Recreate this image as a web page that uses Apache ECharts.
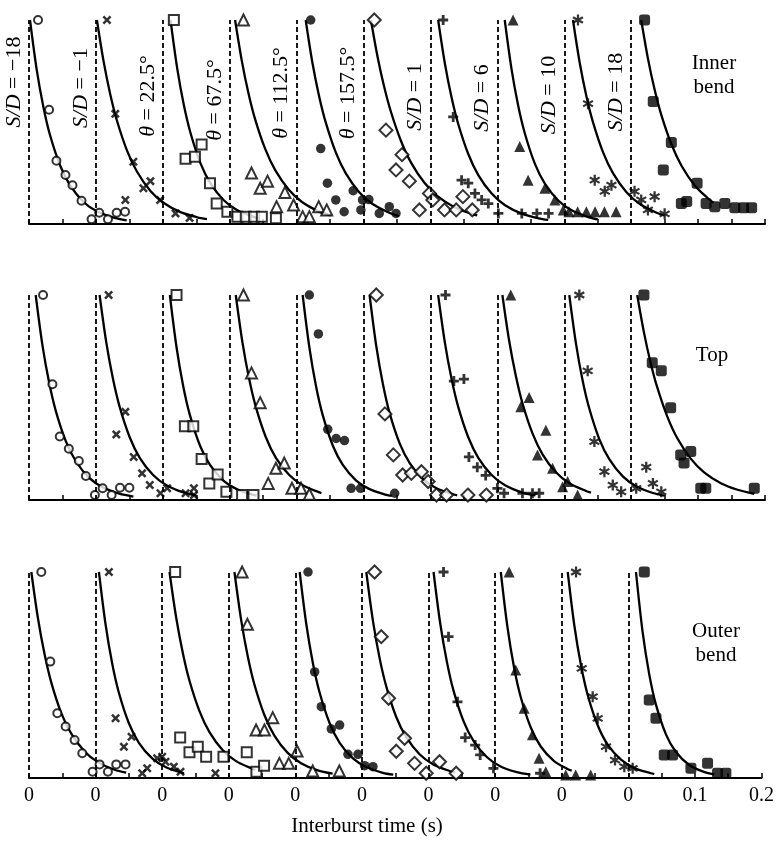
<!DOCTYPE html>
<html>
<head>
<meta charset="utf-8">
<script src="https://cdn.jsdelivr.net/npm/echarts@6/dist/echarts.min.js"></script>
<style>html,body{margin:0;padding:0;background:#fff}#c{width:777px;height:843px}</style>
</head>
<body>
<div id="c"></div>
<script>
// ---- data: subplot offsets (s), condition labels, tick labels ----
const offsets = [0, 0.1, 0.2, 0.3, 0.4, 0.5, 0.6, 0.7, 0.8, 0.9];
const conditionLabels = ['S/D = −18', 'S/D = −1', 'θ = 22.5°', 'θ = 67.5°', 'θ = 112.5°',
  'θ = 157.5°', 'S/D = 1', 'S/D = 6', 'S/D = 10', 'S/D = 18'];
const panelNames = ['Inner\nbend', 'Top', 'Outer\nbend'];
const tickLabels = ['0', '0', '0', '0', '0', '0', '0', '0', '0', '0', '0.1', '0.2'];
const axisTitle = 'Interburst time (s)';

// measured points [time within subplot (s), normalised count]
const innerPts = [
  [[0.0135,1.0],[0.030,0.56],[0.041,0.31],[0.0545,0.24],[0.065,0.19],[0.0785,0.114],[0.0935,0.023],[0.105,0.055],[0.118,0.023],[0.131,0.055],[0.1435,0.06]],
  [[0.0165,1.0],[0.029,0.54],[0.044,0.118],[0.056,0.305],[0.071,0.175],[0.0815,0.21],[0.096,0.118],[0.119,0.052],[0.14,0.03]],
  [[0.0165,1.0],[0.034,0.32],[0.048,0.33],[0.058,0.39],[0.0705,0.2],[0.0805,0.1],[0.0965,0.06],[0.1115,0.036],[0.124,0.036],[0.1365,0.036],[0.148,0.036],[0.169,0.028]],
  [[0.0205,1.0],[0.0325,0.25],[0.0455,0.175],[0.0565,0.21],[0.07,0.085],[0.0825,0.155],[0.0955,0.093],[0.109,0.036],[0.119,0.036],[0.133,0.085],[0.145,0.069]],
  [[0.021,1.0],[0.036,0.37],[0.046,0.2],[0.0585,0.118],[0.071,0.06],[0.0845,0.163],[0.096,0.069],[0.0985,0.118],[0.108,0.12],[0.1235,0.052],[0.1385,0.085],[0.1485,0.052]],
  [[0.016,1.0],[0.0335,0.46],[0.0485,0.265],[0.0575,0.34],[0.0685,0.21],[0.0835,0.069],[0.0985,0.15],[0.1035,0.118],[0.121,0.069],[0.1385,0.069],[0.1485,0.134],[0.1625,0.069]],
  [[0.019,1.0],[0.034,0.525],[0.0465,0.215],[0.0565,0.2],[0.0665,0.15],[0.0765,0.118],[0.0865,0.1],[0.1015,0.052],[0.1365,0.052],[0.159,0.052],[0.1765,0.052]],
  [[0.0235,1.0],[0.0335,0.38],[0.046,0.215],[0.071,0.175],[0.086,0.118],[0.0985,0.069],[0.107,0.06],[0.12,0.06],[0.133,0.06],[0.146,0.06],[0.16,0.06],[0.1775,0.06]],
  [[0.0205,1.0],[0.0355,0.59],[0.0455,0.215],[0.0605,0.16],[0.0705,0.19],[0.105,0.16],[0.115,0.118],[0.125,0.069],[0.135,0.134],[0.15,0.05]],
  [[0.02,1.0],[0.033,0.6],[0.048,0.265],[0.06,0.4],[0.0985,0.2],[0.075,0.1],[0.083,0.11],[0.112,0.1],[0.125,0.085],[0.14,0.1],[0.155,0.08],[0.168,0.08],[0.18,0.08]]
];
// fitted curves [time within subplot (s), value]
const innerFit = [
  [[0.0015,1],[0.0115,0.757],[0.0215,0.574],[0.0315,0.435],[0.0465,0.287],[0.0615,0.189],[0.0815,0.108],[0.1015,0.062],[0.1265,0.031],[0.146,0.018]],
  [[0.0015,1],[0.0115,0.797],[0.0215,0.635],[0.0315,0.506],[0.0465,0.36],[0.0615,0.256],[0.0815,0.162],[0.1015,0.103],[0.1265,0.058],[0.1515,0.033],[0.166,0.024]],
  [[0.0115,1],[0.0215,0.763],[0.0315,0.582],[0.0415,0.445],[0.0565,0.296],[0.0715,0.198],[0.0915,0.115],[0.1115,0.067],[0.1365,0.034],[0.145,0.027]],
  [[0.008,1],[0.018,0.801],[0.028,0.641],[0.038,0.513],[0.053,0.368],[0.068,0.264],[0.088,0.169],[0.108,0.108],[0.133,0.062],[0.151,0.042]],
  [[0.0135,1],[0.0235,0.792],[0.0335,0.628],[0.0435,0.498],[0.0585,0.351],[0.0735,0.248],[0.0935,0.156],[0.1135,0.098],[0.1385,0.055],[0.153,0.039]],
  [[0.011,1],[0.021,0.819],[0.031,0.67],[0.041,0.549],[0.056,0.407],[0.071,0.301],[0.091,0.202],[0.111,0.135],[0.136,0.082],[0.161,0.05],[0.17,0.042]],
  [[0.0115,1],[0.0215,0.788],[0.0315,0.621],[0.0415,0.49],[0.0565,0.343],[0.0715,0.24],[0.0915,0.149],[0.1115,0.092],[0.1365,0.051],[0.1615,0.028],[0.176,0.02]],
  [[0.011,1],[0.021,0.763],[0.031,0.582],[0.041,0.445],[0.056,0.296],[0.071,0.198],[0.091,0.115],[0.111,0.067],[0.136,0.034],[0.15,0.023]],
  [[0.013,1],[0.023,0.792],[0.033,0.628],[0.043,0.498],[0.058,0.351],[0.073,0.248],[0.093,0.156],[0.113,0.098],[0.138,0.055],[0.15,0.042]],
  [[0.015,1],[0.025,0.812],[0.035,0.659],[0.045,0.535],[0.06,0.392],[0.075,0.287],[0.095,0.189],[0.115,0.125],[0.123,0.105]]
];
const topPts = [
  [[0.021,1.0],[0.035,0.565],[0.046,0.31],[0.0595,0.25],[0.0745,0.19],[0.085,0.117],[0.0985,0.024],[0.11,0.057],[0.1235,0.024],[0.136,0.06],[0.15,0.06]],
  [[0.019,1.0],[0.0305,0.32],[0.044,0.43],[0.0565,0.21],[0.069,0.13],[0.0805,0.073],[0.0965,0.033],[0.1065,0.057],[0.134,0.033],[0.1465,0.057],[0.1465,0.024]],
  [[0.0205,1.0],[0.033,0.36],[0.0455,0.36],[0.058,0.2],[0.0695,0.081],[0.082,0.125],[0.095,0.04],[0.1185,0.024],[0.1355,0.024]],
  [[0.0205,1.0],[0.0325,0.62],[0.0455,0.475],[0.0575,0.081],[0.069,0.155],[0.0815,0.18],[0.093,0.057],[0.1065,0.057],[0.119,0.028]],
  [[0.019,1.0],[0.0325,0.81],[0.0465,0.345],[0.059,0.3],[0.0715,0.29],[0.0815,0.057],[0.0955,0.057],[0.1465,0.033]],
  [[0.019,1.0],[0.032,0.42],[0.0445,0.22],[0.0585,0.122],[0.0715,0.13],[0.0865,0.138],[0.0965,0.09],[0.109,0.024],[0.124,0.024],[0.156,0.024],[0.1835,0.024]],
  [[0.0225,1.0],[0.035,0.58],[0.05,0.59],[0.0575,0.21],[0.07,0.16],[0.0825,0.12],[0.1,0.057],[0.11,0.033],[0.1375,0.033],[0.1525,0.033],[0.1625,0.033]],
  [[0.02,1.0],[0.035,0.455],[0.0475,0.5],[0.06,0.22],[0.0725,0.34],[0.0825,0.155],[0.0975,0.065],[0.105,0.09],[0.12,0.024]],
  [[0.0225,1.0],[0.035,0.63],[0.045,0.285],[0.06,0.138],[0.0725,0.073],[0.085,0.04],[0.1075,0.057],[0.1225,0.16],[0.1325,0.081],[0.145,0.04]],
  [[0.019,1.0],[0.0315,0.67],[0.045,0.63],[0.059,0.45],[0.074,0.22],[0.079,0.18],[0.089,0.236],[0.104,0.057],[0.1115,0.057],[0.184,0.057]]
];
const topFit = [
  [[0.01,1],[0.02,0.757],[0.03,0.574],[0.04,0.435],[0.055,0.287],[0.07,0.189],[0.09,0.108],[0.11,0.062],[0.135,0.031],[0.156,0.017]],
  [[0.0055,1],[0.0155,0.769],[0.0255,0.591],[0.0355,0.454],[0.0505,0.306],[0.0655,0.206],[0.0855,0.122],[0.1055,0.072],[0.1305,0.037],[0.15,0.022]],
  [[0.0105,1],[0.0205,0.745],[0.0305,0.555],[0.0405,0.414],[0.0555,0.266],[0.0705,0.171],[0.0905,0.095],[0.1105,0.053],[0.1355,0.025],[0.14,0.022]],
  [[0.009,1],[0.019,0.769],[0.029,0.591],[0.039,0.454],[0.054,0.306],[0.069,0.206],[0.089,0.122],[0.109,0.072],[0.134,0.037],[0.137,0.034]],
  [[0.009,1],[0.019,0.745],[0.029,0.555],[0.039,0.414],[0.054,0.266],[0.069,0.171],[0.089,0.095],[0.109,0.053],[0.134,0.025],[0.142,0.02]],
  [[0.009,1],[0.019,0.751],[0.029,0.565],[0.039,0.424],[0.054,0.276],[0.069,0.18],[0.089,0.102],[0.109,0.057],[0.134,0.028],[0.14,0.023]],
  [[0.0115,1],[0.0215,0.769],[0.0315,0.591],[0.0415,0.454],[0.0565,0.306],[0.0715,0.206],[0.0915,0.122],[0.1115,0.072],[0.1365,0.037],[0.157,0.022]],
  [[0.0075,1],[0.0175,0.779],[0.0275,0.607],[0.0375,0.472],[0.0525,0.325],[0.0675,0.223],[0.0875,0.135],[0.1075,0.082],[0.1325,0.044],[0.14,0.036]],
  [[0.0075,1],[0.0175,0.763],[0.0275,0.582],[0.0375,0.445],[0.0525,0.296],[0.0675,0.198],[0.0875,0.115],[0.1075,0.067],[0.1325,0.034],[0.15,0.021]],
  [[0.009,1],[0.019,0.819],[0.029,0.67],[0.039,0.549],[0.054,0.407],[0.069,0.301],[0.089,0.202],[0.109,0.135],[0.134,0.082],[0.159,0.05],[0.184,0.03]]
];
const outerPts = [
  [[0.0185,1.0],[0.032,0.565],[0.0425,0.314],[0.055,0.25],[0.0685,0.184],[0.08,0.12],[0.0955,0.03],[0.106,0.066],[0.1185,0.03],[0.131,0.066],[0.145,0.066]],
  [[0.02,1.0],[0.03,0.29],[0.0425,0.152],[0.054,0.2],[0.07,0.023],[0.0775,0.047],[0.0925,0.096],[0.1,0.103],[0.105,0.079],[0.1175,0.055],[0.1275,0.03],[0.18,0.023]],
  [[0.0195,1.0],[0.027,0.196],[0.041,0.125],[0.0535,0.152],[0.066,0.103],[0.092,0.103],[0.127,0.125],[0.1415,0.03],[0.153,0.06]],
  [[0.02,1.0],[0.028,0.746],[0.041,0.233],[0.0535,0.233],[0.066,0.293],[0.076,0.071],[0.09,0.071],[0.1025,0.131],[0.126,0.034],[0.166,0.034]],
  [[0.019,1.0],[0.029,0.515],[0.039,0.346],[0.054,0.238],[0.0665,0.257],[0.079,0.115],[0.094,0.115],[0.104,0.06],[0.1165,0.055]],
  [[0.019,1.0],[0.029,0.686],[0.04,0.387],[0.0515,0.13],[0.064,0.193],[0.079,0.071],[0.0965,0.023],[0.1165,0.079],[0.1415,0.023]],
  [[0.0225,1.0],[0.03,0.686],[0.0435,0.37],[0.055,0.196],[0.07,0.16],[0.0775,0.112],[0.0975,0.047],[0.1675,0.023]],
  [[0.021,1.0],[0.031,0.524],[0.0435,0.338],[0.056,0.21],[0.066,0.096],[0.076,0.03],[0.106,0.015],[0.121,0.015],[0.1435,0.015]],
  [[0.0215,1.0],[0.03,0.532],[0.0465,0.395],[0.054,0.29],[0.0665,0.152],[0.08,0.087],[0.094,0.055],[0.1065,0.047]],
  [[0.024,1.0],[0.0315,0.379],[0.0415,0.29],[0.054,0.112],[0.0665,0.112],[0.094,0.047],[0.119,0.071],[0.134,0.023],[0.1465,0.023]]
];
const outerFit = [
  [[0.0035,1],[0.0135,0.774],[0.0235,0.599],[0.0335,0.463],[0.0485,0.315],[0.0635,0.215],[0.0835,0.129],[0.1035,0.077],[0.1285,0.04],[0.146,0.026]],
  [[0.005,1],[0.015,0.745],[0.025,0.555],[0.035,0.414],[0.05,0.266],[0.065,0.171],[0.085,0.095],[0.105,0.053],[0.13,0.025],[0.133,0.023]],
  [[0.011,1],[0.021,0.779],[0.031,0.607],[0.041,0.472],[0.056,0.325],[0.071,0.223],[0.091,0.135],[0.111,0.082],[0.136,0.044],[0.14,0.04]],
  [[0.0085,1],[0.0185,0.769],[0.0285,0.591],[0.0385,0.454],[0.0535,0.306],[0.0685,0.206],[0.0885,0.122],[0.1085,0.072],[0.1335,0.037],[0.156,0.021]],
  [[0.0065,1],[0.0165,0.745],[0.0265,0.555],[0.0365,0.414],[0.0515,0.266],[0.0665,0.171],[0.0865,0.095],[0.1065,0.053],[0.1315,0.025],[0.147,0.016]],
  [[0.0065,1],[0.0165,0.763],[0.0265,0.582],[0.0365,0.445],[0.0515,0.296],[0.0665,0.198],[0.0865,0.115],[0.1065,0.067],[0.1315,0.034],[0.14,0.027]],
  [[0.0075,1],[0.0175,0.751],[0.0275,0.565],[0.0375,0.424],[0.0525,0.276],[0.0675,0.18],[0.0875,0.102],[0.1075,0.057],[0.1325,0.028],[0.153,0.016]],
  [[0.0085,1],[0.0185,0.732],[0.0285,0.535],[0.0385,0.392],[0.0535,0.245],[0.0685,0.153],[0.0885,0.082],[0.1085,0.044],[0.115,0.036]],
  [[0.009,1],[0.019,0.739],[0.029,0.546],[0.039,0.403],[0.054,0.256],[0.069,0.162],[0.089,0.089],[0.109,0.048],[0.134,0.023],[0.139,0.019]],
  [[0.0115,1],[0.0215,0.708],[0.0315,0.502],[0.0415,0.356],[0.0565,0.212],[0.0715,0.126],[0.0915,0.063],[0.1115,0.032],[0.129,0.017]]
];

// ---- styling ----
const FONT = '"Liberation Serif", "DejaVu Serif", serif';
const markers = [
  { symbol: 'circle', size: 8, filled: false },
  { symbol: 'path://M2,0L5,3L8,0L10,2L7,5L10,8L8,10L5,7L2,10L0,8L3,5L0,2Z', size: 9, filled: true },
  { symbol: 'rect', size: 10, filled: false },
  { symbol: 'triangle', size: 11, filled: false },
  { symbol: 'circle', size: 9.5, filled: true },
  { symbol: 'diamond', size: 13, filled: false },
  { symbol: 'path://M3.6,0H6.4V3.6H10V6.4H6.4V10H3.6V6.4H0V3.6H3.6Z', size: 10, filled: true },
  { symbol: 'triangle', size: 11, filled: true },
  { symbol: 'path://M4,0L6,0L6,10L4,10Z M0.2,3.3L1.2,1.7L9.8,6.7L8.8,8.3Z M8.8,1.7L9.8,3.3L1.2,8.3L0.2,6.7Z', size: 11, filled: true },
  { symbol: 'roundRect', size: 11, filled: true }
];
const labelY = [82, 88, 96, 100, 93, 93, 97, 98, 95, 92];

const panels = [
  { pts: innerPts, fit: innerFit, top: 20, height: 204 },
  { pts: topPts, fit: topFit, top: 295, height: 205 },
  { pts: outerPts, fit: outerFit, top: 572, height: 206 }
];

const chart = echarts.init(document.getElementById('c'), null, { renderer: 'canvas' });
const grids = [], xAxes = [], yAxes = [], series = [];

panels.forEach((p, pi) => {
  grids.push({ left: 29, right: 12, top: p.top, height: p.height, containLabel: false });
  const isBottom = pi === panels.length - 1;
  xAxes.push({
    type: 'value', gridIndex: pi, min: 0, max: 1.1, interval: 0.1,
    axisLine: { show: true, lineStyle: { color: '#000', width: 2 } },
    axisTick: { show: true, inside: true, length: 5, lineStyle: { color: '#000', width: 1.5 } },
    minorTick: { show: true, splitNumber: 2, length: 5, lineStyle: { color: '#000', width: 1.5 } },
    splitLine: { show: false },
    axisLabel: {
      show: isBottom, color: '#000', fontFamily: FONT, fontSize: 20, margin: 8,
      showMinLabel: true, showMaxLabel: true, hideOverlap: false,
      formatter: v => tickLabels[Math.round(v * 10)] || ''
    }
  });
  yAxes.push({ type: 'value', gridIndex: pi, min: 0, max: 1, show: false });

  // dashed vertical origin lines at each subplot offset
  series.push({
    type: 'line', xAxisIndex: pi, yAxisIndex: pi, data: [], silent: true,
    markLine: {
      silent: true, symbol: 'none', label: { show: false },
      lineStyle: { color: '#000', type: [5, 3], width: 1.8 },
      data: offsets.map(o => ({ xAxis: o }))
    }
  });

  offsets.forEach((o, k) => {
    const m = markers[k];
    series.push({
      type: 'line', xAxisIndex: pi, yAxisIndex: pi, silent: true,
      showSymbol: false, smooth: 0.3,
      lineStyle: { color: '#000', width: 2.3 },
      data: p.fit[k].map(d => [o + d[0], d[1]]),
      z: 3
    });
    series.push({
      type: 'scatter', xAxisIndex: pi, yAxisIndex: pi, silent: true,
      symbol: m.symbol, symbolSize: m.size,
      itemStyle: m.filled ? { color: '#000' } : { color: '#fff', borderColor: '#000', borderWidth: 2 },
      data: p.pts[k].map(d => [o + d[0], d[1]]),
      clip: false, z: 4
    });
  });
});

chart.setOption({
  animation: false,
  backgroundColor: '#fff',
  grid: grids, xAxis: xAxes, yAxis: yAxes, series: series
});

// text annotations positioned from the axis scale
const graphics = [];
offsets.forEach((o, k) => {
  const px = chart.convertToPixel({ xAxisIndex: 0 }, o);
  const parts = conditionLabels[k].split(' = ');
  graphics.push({
    type: 'text', x: px - 15, y: labelY[k], rotation: Math.PI / 2,
    style: {
      text: '{i|' + parts[0] + '} = ' + parts[1],
      rich: { i: { fontStyle: 'italic', fontFamily: FONT, fontSize: 22, fill: '#000' } },
      fontFamily: FONT, fontSize: 22, fill: '#000',
      align: 'center', verticalAlign: 'middle'
    }
  });
});
const namePos = [[714, 75], [712, 355], [716, 643]];
panelNames.forEach((n, i) => {
  graphics.push({
    type: 'text', x: namePos[i][0], y: namePos[i][1],
    style: { text: n, fontFamily: FONT, fontSize: 21, lineHeight: 24, fill: '#000', align: 'center', verticalAlign: 'middle' }
  });
});
graphics.push({
  type: 'text', x: 367, y: 826,
  style: { text: axisTitle, fontFamily: FONT, fontSize: 21, fill: '#000', align: 'center', verticalAlign: 'middle' }
});
chart.setOption({ graphic: graphics });
</script>
</body>
</html>
